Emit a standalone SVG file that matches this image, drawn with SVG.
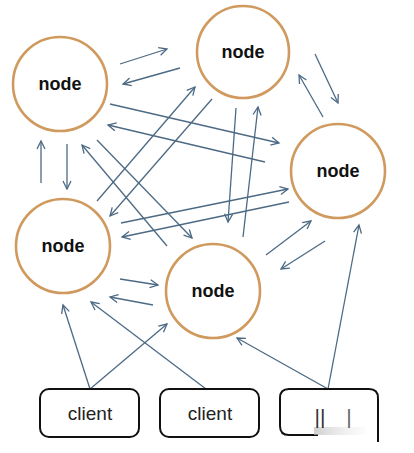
<svg xmlns="http://www.w3.org/2000/svg" width="414" height="453" viewBox="0 0 414 453">
<style>
.node circle{fill:#fff;stroke:#d09a5f;stroke-width:2.6}
.node text{font-family:"Liberation Sans",Arial,sans-serif;font-weight:bold;font-size:18px;fill:#111;text-anchor:middle}
.client .box{fill:#fff;stroke:#111;stroke-width:2}
.client text{font-family:"Liberation Sans",Arial,sans-serif;font-size:19px;fill:#222;text-anchor:middle}
.edges line{stroke:#4c6a84;stroke-width:1.3;marker-end:url(#ah)}
</style>
<defs>
<marker id="ah" markerUnits="userSpaceOnUse" markerWidth="12" markerHeight="12" refX="9" refY="5" orient="auto">
<path d="M1,1 L9,5 L1,9" fill="none" stroke="#4c6a84" stroke-width="1.3"/>
</marker>
<linearGradient id="smear" x1="0" x2="1" y1="0" y2="0">
<stop offset="0" stop-color="#bbb" stop-opacity="0.7"/>
<stop offset="1" stop-color="#eee" stop-opacity="0.2"/>
</linearGradient>
</defs>
<rect width="414" height="453" fill="#fff"/>
<g class="edges">
<line x1="120" y1="64" x2="167" y2="49"/>
<line x1="180" y1="68" x2="123" y2="84"/>
<line x1="110" y1="104" x2="279" y2="143"/>
<line x1="265" y1="162" x2="108" y2="125"/>
<line x1="67" y1="144" x2="67" y2="189"/>
<line x1="41" y1="183" x2="41" y2="141"/>
<line x1="167" y1="246" x2="82" y2="145"/>
<line x1="97" y1="140" x2="192" y2="238"/>
<line x1="97" y1="201" x2="195" y2="87"/>
<line x1="212" y1="99" x2="110" y2="216"/>
<line x1="236" y1="108" x2="228" y2="222"/>
<line x1="243" y1="237" x2="258" y2="107"/>
<line x1="121" y1="223" x2="288" y2="189"/>
<line x1="289" y1="202" x2="122" y2="237"/>
<line x1="315" y1="54" x2="338" y2="103"/>
<line x1="323" y1="117" x2="299" y2="75"/>
<line x1="266" y1="255" x2="311" y2="221"/>
<line x1="325" y1="241" x2="281" y2="269"/>
<line x1="120" y1="279" x2="158" y2="285"/>
<line x1="153" y1="305" x2="110" y2="297"/>
<line x1="90" y1="389" x2="63" y2="305"/>
<line x1="90" y1="389" x2="167" y2="324"/>
<line x1="206" y1="389" x2="91" y2="302"/>
<line x1="328" y1="389" x2="237" y2="338"/>
<line x1="328" y1="389" x2="359" y2="225"/>
</g>
<g id="node1" class="node"><circle cx="60" cy="84" r="47"/><text x="60" y="90">node</text></g>
<g id="node2" class="node"><circle cx="243" cy="52" r="46"/><text x="243" y="58">node</text></g>
<g id="node3" class="node"><circle cx="338" cy="171" r="47"/><text x="338" y="177">node</text></g>
<g id="node4" class="node"><circle cx="63" cy="246" r="47"/><text x="63" y="252">node</text></g>
<g id="node5" class="node"><circle cx="213" cy="291" r="47"/><text x="213" y="297">node</text></g>
<g id="client1" class="client"><rect class="box" x="40" y="389" width="99" height="48" rx="9"/><text x="90" y="420">client</text></g>
<g id="client2" class="client"><rect class="box" x="160" y="389" width="99" height="48" rx="9"/><text x="210" y="420">client</text></g>
<g id="client3" class="client">
<path class="box" d="M318,435 L289,435 Q280,435 280,426 L280,398 Q280,389 289,389 L369,389 Q378,389 378,398 L378,442"/>
<rect x="314" y="427" width="52" height="8" fill="url(#smear)"/>
<text x="320" y="424" style="font-size:21px;fill:#333">||</text>
<text x="349" y="424" style="font-size:21px;fill:#666">|</text>
</g>
</svg>
